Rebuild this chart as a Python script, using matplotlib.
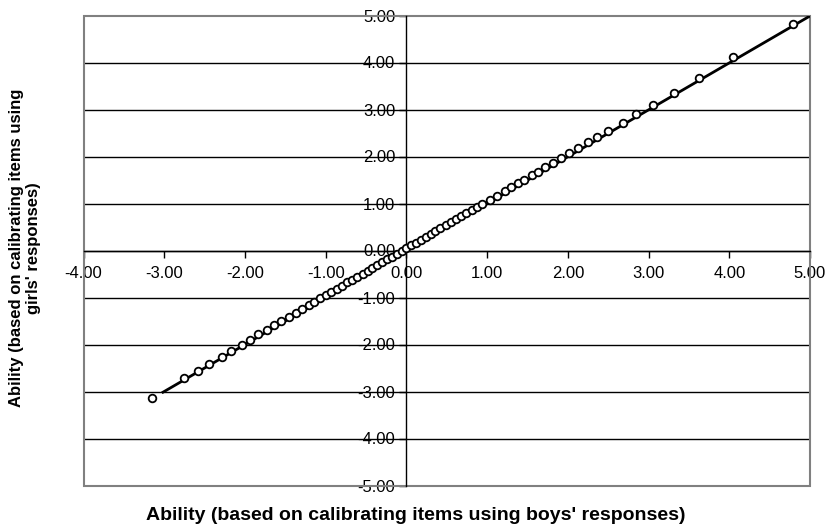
import matplotlib
matplotlib.use("Agg")
import matplotlib.pyplot as plt
from matplotlib.patches import Rectangle

plt.rcParams['font.family'] = ['Liberation Sans', 'DejaVu Sans']

# Ability estimates: boys' calibration (x) vs girls' calibration (y)
boys = [-3.15, -2.76, -2.58, -2.44, -2.29, -2.17, -2.04, -1.94, -1.84, -1.73,
        -1.64, -1.55, -1.46, -1.37, -1.29, -1.21, -1.14, -1.07, -1.00, -0.93,
        -0.86, -0.80, -0.73, -0.67, -0.61, -0.54, -0.48, -0.42, -0.36, -0.30,
        -0.24, -0.18, -0.12, -0.06, 0.00, 0.06, 0.12, 0.18, 0.24, 0.30,
        0.36, 0.42, 0.49, 0.55, 0.61, 0.68, 0.74, 0.81, 0.87, 0.94,
        1.03, 1.12, 1.22, 1.30, 1.38, 1.46, 1.55, 1.63, 1.72, 1.82,
        1.92, 2.02, 2.13, 2.25, 2.36, 2.50, 2.68, 2.85, 3.05, 3.31,
        3.63, 4.05, 4.79]
girls = [-3.13, -2.72, -2.56, -2.42, -2.26, -2.14, -2.00, -1.90, -1.78, -1.69,
         -1.58, -1.49, -1.41, -1.32, -1.24, -1.16, -1.09, -1.02, -0.95, -0.88,
         -0.81, -0.75, -0.68, -0.62, -0.56, -0.49, -0.43, -0.37, -0.31, -0.25,
         -0.19, -0.13, -0.07, -0.01, 0.05, 0.11, 0.17, 0.23, 0.29, 0.35,
         0.41, 0.47, 0.54, 0.60, 0.66, 0.73, 0.79, 0.86, 0.92, 0.99,
         1.08, 1.17, 1.27, 1.35, 1.43, 1.51, 1.60, 1.68, 1.77, 1.87,
         1.97, 2.07, 2.18, 2.30, 2.41, 2.55, 2.72, 2.90, 3.10, 3.36,
         3.68, 4.12, 4.82]
line_x = [-3.03, 5.06]
line_y = [-3.03, 5.05]

x_ticks = [-4, -3, -2, -1, 0, 1, 2, 3, 4, 5]
y_ticks = [-5, -4, -3, -2, -1, 0, 1, 2, 3, 4, 5]
x_label = "Ability (based on calibrating items using boys' responses)"
y_label = "Ability (based on calibrating items using\ngirls' responses)"

fig = plt.figure(figsize=(8.30, 5.29), dpi=100)
ax = fig.add_axes([83.5/830, 1-485.5/529, (810-83.5)/830, (485.5-15.5)/529])
ax.set_xlim(-4, 5)
ax.set_ylim(-5, 5)

# gridlines
for yt in y_ticks[1:-1]:
    ax.axhline(yt, color='black', lw=1.0, zorder=1)

# frame
ax.add_patch(Rectangle((0, 0), 1, 1, transform=ax.transAxes, fill=False,
                       edgecolor='#808080', lw=1.5, zorder=2, clip_on=False))
for s in ['top', 'right']:
    ax.spines[s].set_visible(False)
ax.spines['left'].set_position(('data', 0))
ax.spines['bottom'].set_position(('data', 0))
ax.spines['left'].set_color('black')
ax.spines['bottom'].set_color('black')
ax.spines['left'].set_linewidth(1.0)
ax.spines['bottom'].set_linewidth(1.0)
ax.spines['left'].set_zorder(3)
ax.spines['bottom'].set_zorder(3)

ax.set_xticks(x_ticks)
ax.set_yticks(y_ticks)
ax.set_xticklabels([f"{v:.2f}" for v in x_ticks])
ax.set_yticklabels([f"{v:.2f}" for v in y_ticks])
ax.tick_params(axis='x', direction='out', length=5, width=1, pad=6, labelsize=12)
ax.tick_params(axis='y', direction='out', length=5, width=1, pad=3, labelsize=12)

ax.plot(line_x, line_y, color='black', lw=2.0, zorder=4, solid_capstyle='butt')
ax.plot(boys, girls, linestyle='none', marker='o', markersize=5.5,
        markerfacecolor='white', markeredgecolor='black', markeredgewidth=1.3,
        zorder=5)

fig.text(416/830, 1-515/529, x_label, ha='center', va='center',
         fontsize=14, fontweight='bold')
fig.text(25/830, 1-248/529, y_label, ha='center', va='center',
         fontsize=12, fontweight='bold', rotation=90, multialignment='center')

fig.savefig('out.png', dpi=100)
